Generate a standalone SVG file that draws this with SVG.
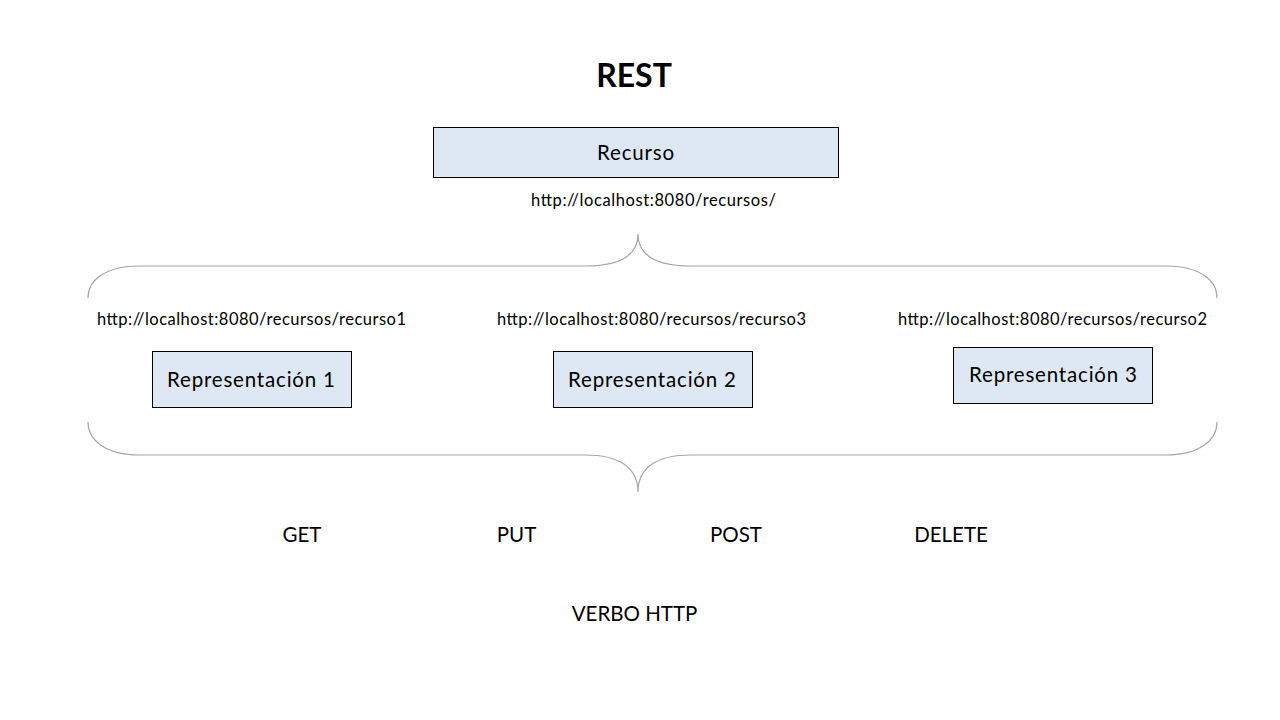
<svg xmlns="http://www.w3.org/2000/svg" width="1280" height="720" viewBox="0 0 1280 720">
<style>
text{font-family:Lato,"Open Sans","Liberation Sans",sans-serif;fill:#000}
.box{fill:#dee8f4;stroke:#000;stroke-width:1}
.lbl{font-size:20.5px;text-anchor:middle}
.url{font-size:16.5px;text-anchor:middle}
.brace{fill:none;stroke:#a6a6a6;stroke-width:1.2}
</style>
<rect width="1280" height="720" fill="#fff"/>
<text x="634" y="87" font-size="32" font-weight="bold" text-anchor="middle">REST</text>
<g id="recurso">
<rect class="box" x="433.5" y="127.5" width="405" height="50"/>
<text class="lbl" x="635.5" y="160" textLength="77" lengthAdjust="spacing">Recurso</text>
</g>
<text class="url" x="653.5" y="206" textLength="245" lengthAdjust="spacing">http://localhost:8080/recursos/</text>
<g id="connectors">
<path class="brace" d="M88,298 C88,280 105,266 140,266 L585,266 C620,266 638,255 638,234 C638,255 656,266 691,266 L1165,266 C1200,266 1217,280 1217,298"/>
<path class="brace" d="M88,422 C88,440 105,455 140,455 L585,455 C620,455 638,468 638,492 C638,468 656,455 691,455 L1165,455 C1200,455 1217,440 1217,422"/>
</g>
<text class="url" x="251.5" y="325" textLength="309" lengthAdjust="spacing">http://localhost:8080/recursos/recurso1</text>
<text class="url" x="651.5" y="325" textLength="309" lengthAdjust="spacing">http://localhost:8080/recursos/recurso3</text>
<text class="url" x="1052.5" y="325" textLength="309" lengthAdjust="spacing">http://localhost:8080/recursos/recurso2</text>
<g id="rep1">
<rect class="box" x="152.5" y="351.5" width="199" height="56"/>
<text class="lbl" x="251" y="387" textLength="168" lengthAdjust="spacing">Representación 1</text>
</g>
<g id="rep2">
<rect class="box" x="553.5" y="351.5" width="199" height="56"/>
<text class="lbl" x="652" y="387" textLength="168" lengthAdjust="spacing">Representación 2</text>
</g>
<g id="rep3">
<rect class="box" x="953.5" y="347.5" width="199" height="56"/>
<text class="lbl" x="1053" y="382" textLength="168" lengthAdjust="spacing">Representación 3</text>
</g>
<text class="lbl" x="302" y="542">GET</text>
<text class="lbl" x="516.5" y="542">PUT</text>
<text class="lbl" x="736" y="542">POST</text>
<text class="lbl" x="951" y="542">DELETE</text>
<text class="lbl" x="634.5" y="621">VERBO HTTP</text>
</svg>
